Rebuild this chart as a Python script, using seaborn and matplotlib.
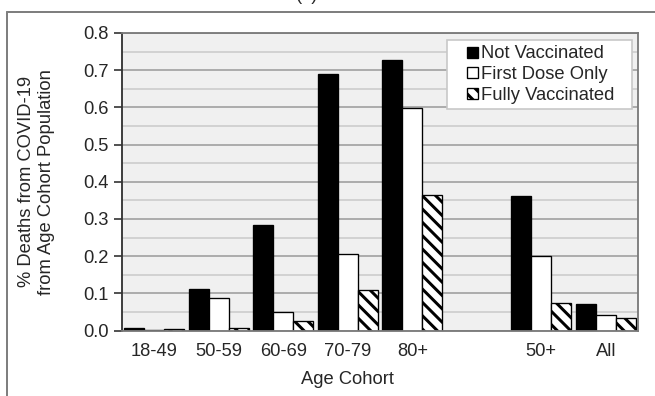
import matplotlib
matplotlib.use("Agg")
import matplotlib.pyplot as plt
from matplotlib.lines import Line2D
from matplotlib.patches import Rectangle
from matplotlib.legend_handler import HandlerPatch
import seaborn as sns
import pandas as pd

# Age cohorts (the blank slot separates the per-decade groups from the aggregates)
cohorts = ["18-49", "50-59", "60-69", "70-79", "80+", " ", "50+", "All"]
groups = ["Not Vaccinated", "First Dose Only", "Fully Vaccinated"]

# % deaths from COVID-19 relative to the age-cohort population
not_vaccinated = [0.007, 0.112, 0.284, 0.691, 0.727, None, 0.362, 0.070]
first_dose_only = [0.001, 0.087, 0.051, 0.207, 0.599, None, 0.200, 0.043]
fully_vaccinated = [0.003, 0.006, 0.026, 0.109, 0.364, None, 0.073, 0.033]

rows = []
for grp, vals in zip(groups, [not_vaccinated, first_dose_only, fully_vaccinated]):
    for c, v in zip(cohorts, vals):
        if v is not None:
            rows.append({"cohort": c, "group": grp, "pct": v})
df = pd.DataFrame(rows)

sns.set_style("white")
plt.rcParams["font.family"] = ["Liberation Sans", "DejaVu Sans"]
plt.rcParams["hatch.linewidth"] = 1.8
plt.rcParams["hatch.color"] = "black"

FS = 11
DPI = 120
fig = plt.figure(figsize=(655 / DPI, 396 / DPI), dpi=DPI)
ax = fig.add_axes([122 / 655, 1 - 330.5 / 396, 516 / 655, 297.5 / 396])
ax.set_facecolor("#f0f0f0")

sns.barplot(
    data=df, x="cohort", y="pct", hue="group",
    order=cohorts, hue_order=groups,
    palette=["black", "white", "white"], saturation=1,
    width=0.93, edgecolor="black", linewidth=0.8,
    errorbar=None, ax=ax,
)

for patch in ax.containers[2].patches:
    patch.set_hatch("\\\\\\")

ax.set_xlim(-0.5, 7.5)
ax.set_ylim(0, 0.8)
ax.set_yticks([i / 10 for i in range(9)])
ax.set_yticks([i / 20 for i in range(1, 16, 2)], minor=True)
ax.set_yticklabels([f"{i / 10:.1f}" for i in range(9)])
ax.grid(axis="y", which="major", color="#a8a8a8", linewidth=1.1)
ax.grid(axis="y", which="minor", color="#d0d0d0", linewidth=1.1)
ax.set_axisbelow(True)

for side, sp in ax.spines.items():
    sp.set_visible(True)
    sp.set_color("#7a7a7a")
    sp.set_linewidth(1.1)
ax.spines["left"].set_color("#333333")

ax.tick_params(axis="y", which="major", direction="out", length=5, width=1,
               color="#333333", pad=3, labelsize=FS, left=True)
ax.tick_params(axis="y", which="minor", length=0)
ax.tick_params(axis="x", length=0, pad=7.5, labelsize=FS)

ax.set_xlabel("Age Cohort", fontsize=FS)
ax.xaxis.set_label_coords(0.437, -0.135)
ax.set_ylabel("% Deaths from COVID-19\nfrom Age Cohort Population", fontsize=FS)
ax.yaxis.set_label_coords(-0.13, 0.5)


def small_square(legend, orig_handle, xdescent, ydescent, width, height, fontsize):
    s = 0.6 * fontsize
    return Rectangle((-xdescent + width - s, -ydescent + (height - s) / 2), s, s)


handles = [c.patches[0] for c in ax.containers]
leg = ax.legend(
    handles, groups, loc="upper left", mode="expand",
    bbox_to_anchor=(0.6298, 0.0, 0.3585, 0.9765), borderaxespad=0.0,
    fontsize=FS, handlelength=1.4, handleheight=0.7, handletextpad=0.15,
    labelspacing=0.2, borderpad=0.3,
    frameon=True, fancybox=False, framealpha=1,
    edgecolor="#c8c8c8", facecolor="white",
    handler_map={Rectangle: HandlerPatch(patch_func=small_square)},
)
leg.get_frame().set_linewidth(1.0)

# figure frame (top and left edges) and the panel title
fig.add_artist(Line2D([7 / 655, 1], [1 - 12 / 396] * 2, color="#7f7f7f", lw=1.2,
                      transform=fig.transFigure))
fig.add_artist(Line2D([7 / 655] * 2, [0, 1 - 12 / 396], color="#7f7f7f", lw=1.2,
                      transform=fig.transFigure))
fig.text(307 / 655, 1.0, "(a)", ha="center", va="baseline", fontsize=FS)

fig.savefig("out.png", dpi=DPI)
